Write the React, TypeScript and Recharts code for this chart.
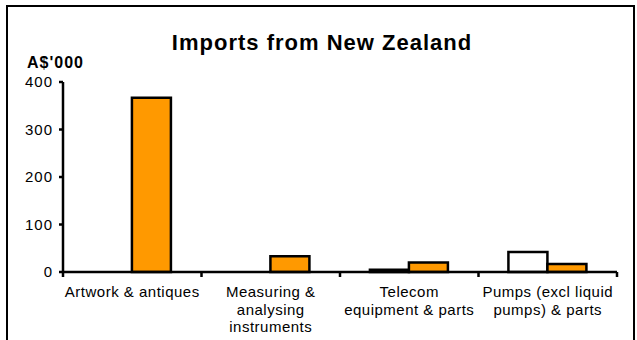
import React from "react";
import { BarChart, Bar, XAxis, YAxis } from "recharts";

const categories = [
  "Artwork & antiques",
  "Measuring &\nanalysing\ninstruments",
  "Telecom\nequipment & parts",
  "Pumps (excl liquid\npumps) & parts",
];
const previousYear = [0, 0, 5, 42];
const currentYear = [367, 33, 20, 17];
const yTicks = [0, 100, 200, 300, 400];

const data = categories.map((c, i) => ({
  name: c,
  prev: previousYear[i],
  curr: currentYear[i],
}));

const FONT = "'Liberation Sans', Arial, sans-serif";
const LINE = 2.5;

const XTick = (props: any) => {
  const { x, y, payload, index, width, visibleTicksCount } = props;
  const half =
    payload && typeof payload.offset === "number" && payload.offset > 0
      ? payload.offset
      : width / (visibleTicksCount || 1) / 2;
  const lines = String(payload.value).split("\n");
  const isLast = index === (visibleTicksCount || 1) - 1;
  return (
    <g>
      <line x1={x - half} x2={x - half} y1={y} y2={y + 5} stroke="#000" strokeWidth={LINE} />
      {isLast && (
        <line x1={x + half} x2={x + half} y1={y} y2={y + 5} stroke="#000" strokeWidth={LINE} />
      )}
      <text
        x={x}
        y={y + 25}
        textAnchor="middle"
        fontFamily={FONT}
        fontSize={15}
        letterSpacing={0.5}
        fill="#000"
      >
        {lines.map((l, i) => (
          <tspan key={i} x={x} dy={i === 0 ? 0 : 17.7}>
            {l}
          </tspan>
        ))}
      </text>
    </g>
  );
};

export default function App() {
  return (
    <div
      style={{
        position: "fixed",
        left: 0,
        top: 0,
        width: 637,
        height: 340,
        overflow: "hidden",
        background: "#fff",
      }}
    >
      <div
        style={{
          position: "absolute",
          left: 6,
          top: 5,
          width: 629,
          height: 400,
          boxSizing: "border-box",
          border: "2px solid #000",
        }}
      />
      <div style={{ position: "absolute", left: 0, top: 0 }}>
        <BarChart
          width={637}
          height={340}
          data={data}
          margin={{ top: 82, right: 20, bottom: 0, left: 0 }}
          barCategoryGap="21.6%"
          barGap={0}
        >
          <XAxis
            dataKey="name"
            height={68}
            axisLine={{ stroke: "#000", strokeWidth: LINE }}
            tickLine={false}
            tickSize={0}
            tickMargin={0}
            interval={0}
            tick={<XTick />}
          />
          <YAxis
            width={63}
            domain={[0, 400]}
            ticks={yTicks}
            interval={0}
            axisLine={{ stroke: "#000", strokeWidth: LINE }}
            tickLine={{ stroke: "#000", strokeWidth: LINE }}
            tickSize={4}
            tickMargin={6}
            tick={{ fontFamily: FONT, fontSize: 15, fill: "#000", letterSpacing: 1 }}
          />
          <Bar
            dataKey="prev"
            name="Previous year"
            fill="#ffffff"
            stroke="#000"
            strokeWidth={LINE}
            isAnimationActive={false}
          />
          <Bar
            dataKey="curr"
            name="Current year"
            fill="#FF9900"
            stroke="#000"
            strokeWidth={LINE}
            isAnimationActive={false}
          />
        </BarChart>
      </div>
      <svg
        width={637}
        height={340}
        style={{ position: "absolute", left: 0, top: 0, pointerEvents: "none" }}
      >
        <text
          x={322}
          y={50}
          textAnchor="middle"
          fontFamily={FONT}
          fontWeight="bold"
          fontSize={22}
          letterSpacing={1}
          fill="#000"
        >
          Imports from New Zealand
        </text>
        <text
          x={27}
          y={68}
          fontFamily={FONT}
          fontWeight="bold"
          fontSize={16}
          letterSpacing={1}
          fill="#000"
        >
          A$'000
        </text>
      </svg>
    </div>
  );
}
